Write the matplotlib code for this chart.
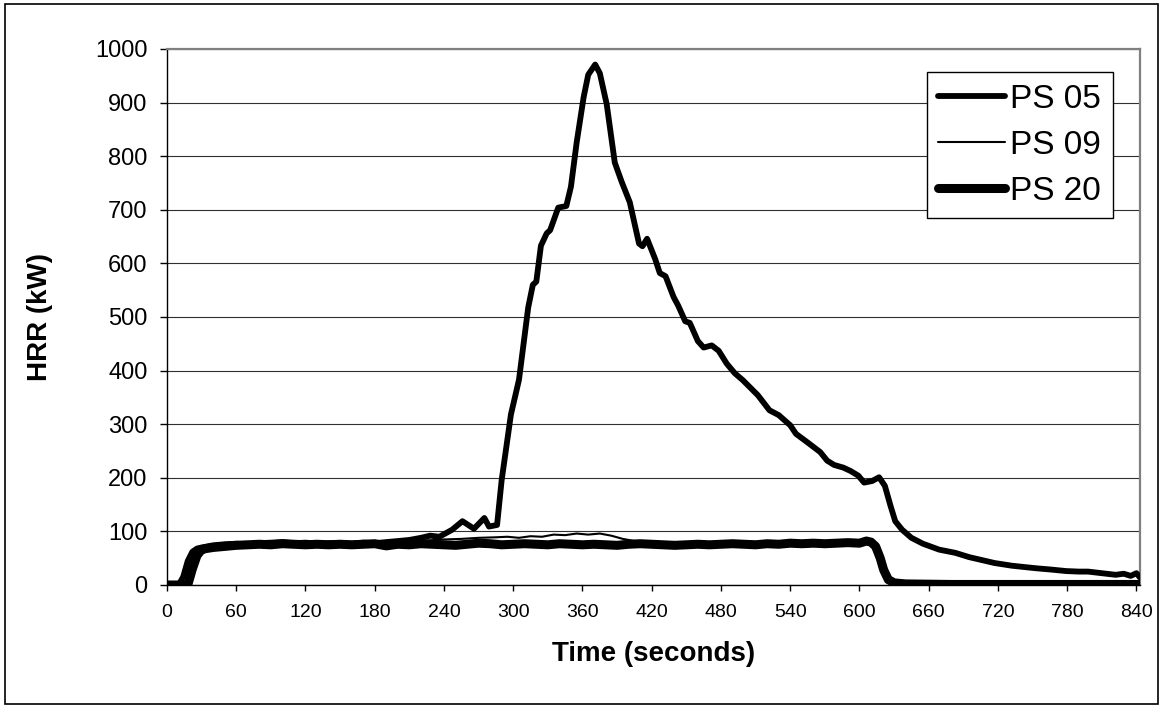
"""
HRR curves for PS 05 / PS 09 / PS 20 — Excel-style line chart recreation.
"""

import matplotlib
matplotlib.use("Agg")
import matplotlib.pyplot as plt
from matplotlib.patches import Rectangle

plt.rcParams["font.family"] = ["Liberation Sans", "DejaVu Sans"]

# ── Data ──────────────────────────────────────────────────────────────────────
t_ps05 = [0, 10, 14, 18, 22, 26, 30, 40, 50, 60,
          70, 80, 90, 100, 110, 120, 130, 140, 150, 160,
          170, 180, 190, 200, 210, 220, 228, 236, 247, 256,
          266, 275, 279, 286, 290, 298, 305, 313, 317, 320,
          324, 329, 332, 339, 346, 350, 355, 361, 365, 371,
          375, 381, 388, 394, 401, 409, 412, 416, 423, 427,
          432, 439, 443, 449, 453, 460, 465, 472, 478, 485,
          492, 499, 512, 522, 530, 540, 545, 555, 566, 572,
          578, 586, 592, 599, 604, 611, 617, 622, 627, 631,
          637, 645, 655, 669, 683, 695, 705, 717, 732, 745,
          754, 765, 779, 790, 798, 810, 822, 829, 835, 840,
          843]
hrr_ps05 = [0, 0, 15, 45, 62, 68, 70, 74, 76, 77,
            76, 78, 79, 80, 78, 79, 77, 78, 78, 77,
            79, 78, 80, 82, 84, 88, 92, 90, 103, 119,
            105, 125, 109, 112, 196, 318, 383, 518, 560, 566,
            633, 656, 662, 704, 707, 743, 826, 910, 952, 971,
            955, 897, 788, 752, 714, 637, 632, 646, 608, 582,
            576, 537, 521, 492, 489, 455, 443, 447, 437, 413,
            395, 382, 354, 326, 317, 298, 282, 266, 248, 232,
            224, 219, 213, 204, 191, 194, 201, 185, 147, 119,
            103, 88, 77, 66, 60, 52, 47, 41, 36, 33,
            31, 29, 26, 25, 25, 22, 19, 21, 17, 22,
            14]

t_ps09 = [0, 12, 16, 20, 24, 28, 35, 45, 60, 75,
          90, 105, 120, 135, 150, 165, 180, 195, 210, 225,
          240, 255, 270, 285, 295, 305, 315, 325, 335, 345,
          355, 365, 375, 385, 395, 405, 420, 440, 460, 480,
          500, 520, 540, 560, 580, 600, 608, 613, 617, 620,
          624, 628, 635, 650, 700, 750, 800, 843]
hrr_ps09 = [0, 0, 20, 50, 65, 70, 72, 75, 77, 78,
            79, 80, 78, 80, 79, 78, 80, 79, 81, 83,
            85, 86, 88, 89, 90, 88, 91, 90, 94, 93,
            96, 94, 96, 92, 86, 82, 80, 79, 80, 79,
            81, 80, 80, 81, 80, 82, 84, 80, 60, 30,
            10, 4, 3, 2, 2, 2, 2, 1]

t_ps20 = [0, 18, 22, 26, 30, 34, 40,
          50, 60, 70, 80, 90, 100, 110, 120, 130, 140,
          150, 160, 170, 180, 190, 200, 210, 220, 230, 240,
          250, 260, 270, 280, 290, 300, 310, 320, 330, 340,
          350, 360, 370, 380, 390, 400, 410, 420, 430, 440,
          450, 460, 470, 480, 490, 500, 510, 520, 530, 540,
          550, 560, 570, 580, 590, 600,
          606, 610, 614, 618, 621, 625, 630, 640, 680, 720, 760, 800, 843]
hrr_ps20 = [0, 0, 30, 55, 66, 68, 70,
            72, 74, 75, 76, 75, 77, 76, 75, 76, 75,
            76, 75, 76, 77, 73, 76, 75, 77, 76, 75,
            74, 76, 78, 77, 75, 76, 77, 76, 75, 77,
            76, 75, 76, 75, 74, 76, 77, 76, 75, 74,
            75, 76, 75, 76, 77, 76, 75, 77, 76, 78,
            77, 78, 77, 78, 79, 78,
            82, 80, 72, 50, 28, 10, 4, 2, 1, 1, 1, 1, 1]

LABELS = ["PS 05", "PS 09", "PS 20"]
X_TICKS = list(range(0, 841, 60))
Y_TICKS = list(range(0, 1001, 100))

# ── Figure ────────────────────────────────────────────────────────────────────
fig = plt.figure(figsize=(11.62, 7.06), dpi=100)
ax = fig.add_axes([0.1437, 0.1714, 0.981 - 0.1437, 0.9306 - 0.1714])

line_kw = dict(color="black", solid_capstyle="round", solid_joinstyle="round")
ax.plot(t_ps05, hrr_ps05, lw=4.2, label=LABELS[0], zorder=3, **line_kw)
ax.plot(t_ps09, hrr_ps09, lw=1.5, label=LABELS[1], zorder=4, **line_kw)
ax.plot(t_ps20, hrr_ps20, lw=6.5, label=LABELS[2], zorder=3, **line_kw)

ax.set_xlim(0, 843)
ax.set_ylim(0, 1000)
ax.set_xticks(X_TICKS)
ax.set_yticks(Y_TICKS)
ax.tick_params(axis="x", labelsize=14, length=4, width=1, pad=10, direction="out")
ax.tick_params(axis="y", labelsize=17, length=5, width=1, pad=9, direction="out")

ax.grid(axis="y", color="#303030", linewidth=0.8)
ax.set_axisbelow(True)

for s in ("left", "bottom"):
    ax.spines[s].set_color("black")
    ax.spines[s].set_linewidth(1.0)
for s in ("top", "right"):
    ax.spines[s].set_color("#808080")
    ax.spines[s].set_linewidth(1.6)

ax.set_xlabel("Time (seconds)", fontsize=20, fontweight="bold", labelpad=14)
ax.set_ylabel("HRR (kW)", fontsize=20, fontweight="bold", labelpad=30)

leg = ax.legend(loc="upper right", bbox_to_anchor=(0.972, 0.957),
                borderaxespad=0, fontsize=24, handlelength=2.0,
                handletextpad=0.15, labelspacing=0.45, borderpad=0.35,
                fancybox=False, framealpha=1, edgecolor="black")
leg.get_frame().set_linewidth(1.0)

# outer chart border
fig.patches.append(Rectangle((5 / 1162, 2 / 706), 1153 / 1162, 700 / 706,
                             transform=fig.transFigure, fill=False,
                             edgecolor="black", linewidth=1.2))

fig.savefig("out.png", dpi=100)
